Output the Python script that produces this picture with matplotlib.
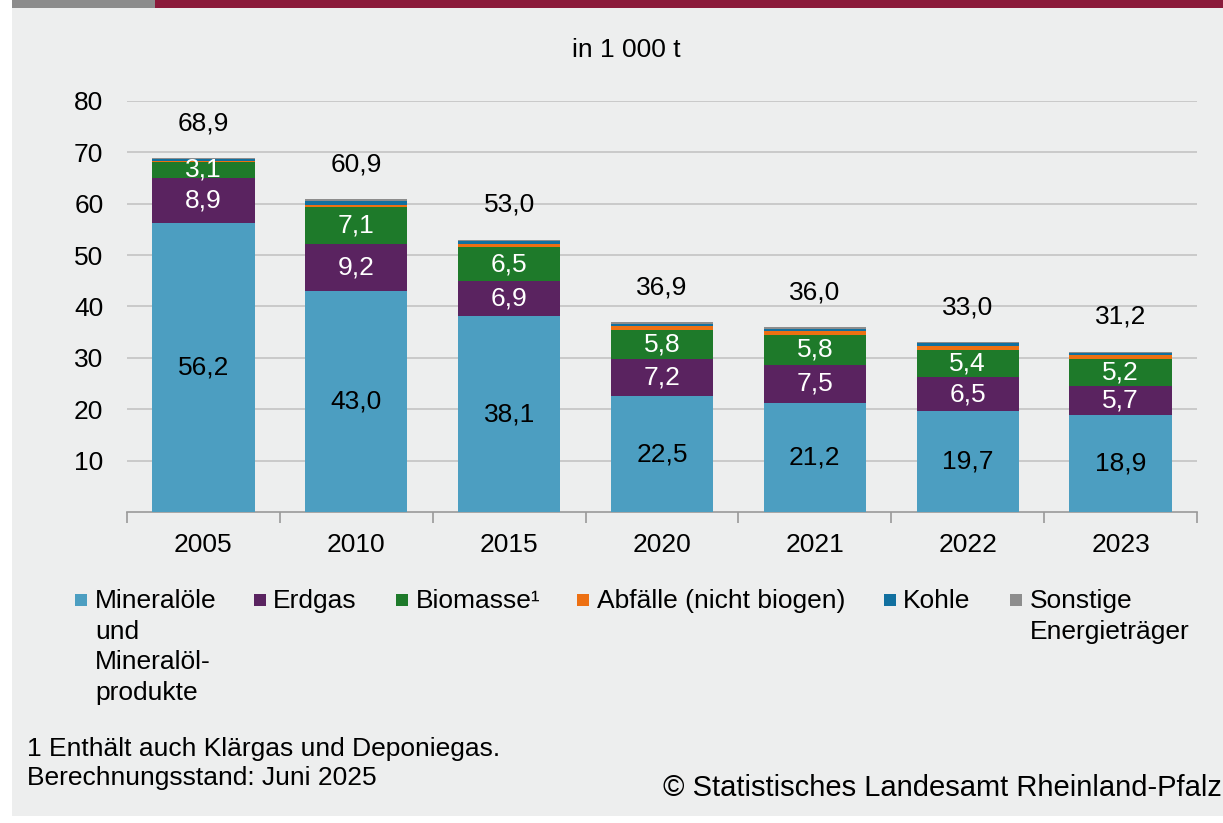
import matplotlib
matplotlib.use("Agg")
import matplotlib.pyplot as plt
from matplotlib.patches import Rectangle
import numpy as np

plt.rcParams['font.family'] = ['Liberation Sans', 'DejaVu Sans']

years = ["2005", "2010", "2015", "2020", "2021", "2022", "2023"]
mineraloele = [56.2, 43.0, 38.1, 22.5, 21.2, 19.7, 18.9]
erdgas = [8.9, 9.2, 6.9, 7.2, 7.5, 6.5, 5.7]
biomasse = [3.1, 7.1, 6.5, 5.8, 5.8, 5.4, 5.2]
abfaelle = [0.2, 0.5, 0.7, 0.8, 0.8, 0.8, 0.8]
kohle = [0.4, 0.8, 0.5, 0.3, 0.4, 0.4, 0.4]
sonstige = [0.1, 0.3, 0.3, 0.3, 0.3, 0.2, 0.2]
totals = [68.9, 60.9, 53.0, 36.9, 36.0, 33.0, 31.2]

series_names = ["Mineralöle\nund\nMineralöl-\nprodukte", "Erdgas", "Biomasse¹",
                "Abfälle (nicht biogen)", "Kohle", "Sonstige\nEnergieträger"]
colors = ["#4c9ec1", "#5a2360", "#1e7a2a", "#ed7012", "#11709f", "#8d8d8d"]
label_colors = ["black", "white", "white", None, None, None]
series = [mineraloele, erdgas, biomasse, abfaelle, kohle, sonstige]

FS = 19
W, H = 1223, 823
fig = plt.figure(figsize=(W / 100, H / 100), dpi=100, facecolor="white")

# background panel and top band
fig.patches.append(Rectangle((12 / W, 1 - 816 / H), (W - 12) / W, 808 / H,
                             transform=fig.transFigure, facecolor="#edeeee", edgecolor="none", zorder=-5))
fig.patches.append(Rectangle((12 / W, 1 - 8 / H), (155 - 12) / W, 8 / H,
                             transform=fig.transFigure, facecolor="#8c8c8c", edgecolor="none", zorder=-5))
fig.patches.append(Rectangle((155 / W, 1 - 8 / H), (W - 155) / W, 8 / H,
                             transform=fig.transFigure, facecolor="#8b1a3a", edgecolor="none", zorder=-5))

ax = fig.add_axes([127 / W, 1 - 512 / H, (1197 - 127) / W, (512 - 101) / H])
ax.set_facecolor("none")
x = np.arange(len(years))
bottom = np.zeros(len(years))
for vals, col, lc in zip(series, colors, label_colors):
    vals = np.array(vals)
    ax.bar(x, vals, bottom=bottom, width=0.67, color=col, edgecolor="none", zorder=3)
    if lc is not None:
        for xi, b, v in zip(x, bottom, vals):
            ax.text(xi, b + v / 2, f"{v:.1f}".replace(".", ","), ha="center", va="center",
                    color=lc, fontsize=FS, zorder=4)
    bottom += vals

for xi, t in zip(x, totals):
    ax.annotate(f"{t:.1f}".replace(".", ","), (xi, t), xytext=(0, 25), textcoords="offset points",
                ha="center", va="center", fontsize=FS, color="black")

ax.set_xlim(-0.5, len(years) - 0.5)
ax.set_ylim(0, 80)
ax.set_yticks(range(10, 81, 10))
ax.set_yticklabels([str(v) for v in range(10, 81, 10)], fontsize=FS)
ax.yaxis.grid(True, color="#c3c3c3", linewidth=1.2, zorder=0)
ax.set_axisbelow(True)
ax.tick_params(axis="y", length=0, pad=17)
ax.set_xticks(np.arange(-0.5, len(years), 1.0), minor=False)
ax.set_xticklabels([""] * (len(years) + 1))
ax.set_xticks(x, minor=True)
ax.set_xticklabels(years, minor=True, fontsize=FS)
ax.tick_params(axis="x", which="major", length=8, color="#999999", width=1.2)
ax.tick_params(axis="x", which="minor", length=0, pad=15)
for s in ["left", "right", "top"]:
    ax.spines[s].set_visible(False)
ax.spines["bottom"].set_color("#999999")
ax.spines["bottom"].set_linewidth(1.2)

fig.text(626 / W, 1 - 50 / H, "in 1 000 t", ha="center", va="center", fontsize=FS)

# legend
marker_x = [75, 254, 396, 577, 884, 1010]
text_x = [95, 273, 416, 597, 903, 1030]
for mx, tx, col, name in zip(marker_x, text_x, colors, series_names):
    fig.patches.append(Rectangle((mx / W, 1 - 606 / H), 12 / W, 12 / H,
                                 transform=fig.transFigure, facecolor=col, edgecolor="none"))
    for i, ln in enumerate(name.split("\n")):
        fig.text(tx / W, 1 - (601 + 30.7 * i) / H, ln, ha="left", va="center", fontsize=FS)

fig.text(27 / W, 1 - 749 / H, "1 Enthält auch Klärgas und Deponiegas.", ha="left", va="center", fontsize=FS)
fig.text(27 / W, 1 - 778 / H, "Berechnungsstand: Juni 2025", ha="left", va="center", fontsize=FS)
fig.text(663 / W, 1 - 788 / H, "© Statistisches Landesamt Rheinland-Pfalz", ha="left", va="center", fontsize=21)

fig.savefig("out.png", dpi=100, facecolor="white")
